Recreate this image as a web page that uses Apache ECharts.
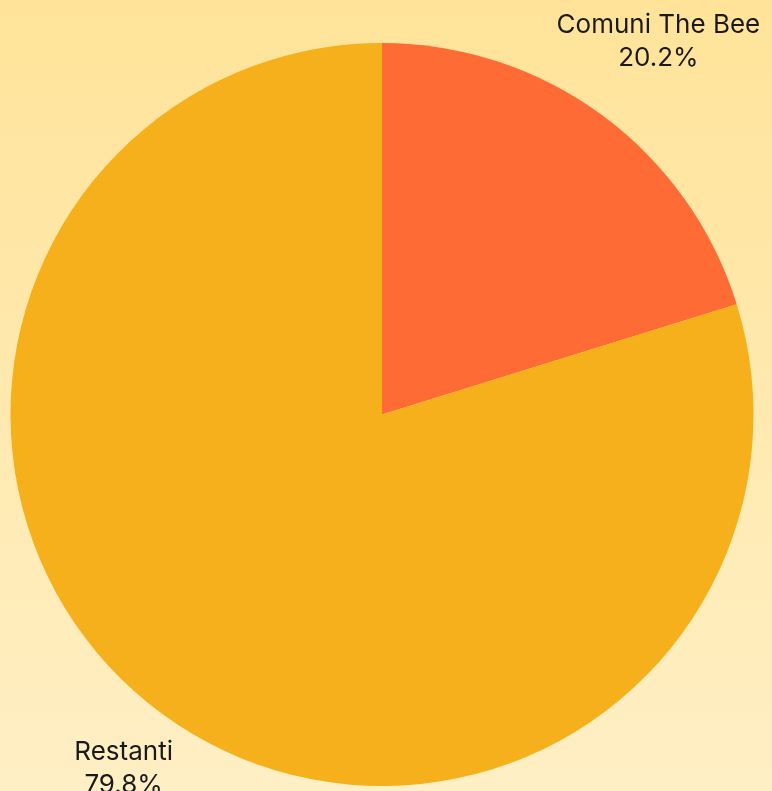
<!DOCTYPE html>
<html>
<head>
<meta charset="utf-8">
<script src="https://cdn.jsdelivr.net/npm/echarts@6/dist/echarts.min.js"></script>
<style>
  html, body { margin: 0; padding: 0; }
  #main { width: 772px; height: 791px; }
</style>
</head>
<body>
<div id="main"></div>
<script>
var categories = ['Comuni The Bee', 'Restanti'];
var values = [20.2, 79.8];
var colors = ['#FF6B35', '#F5B01B'];

var pieData = categories.map(function (name, i) {
  return { name: name, value: values[i], itemStyle: { color: colors[i] } };
});

var myChart = echarts.init(document.getElementById('main'));
myChart.setOption({
  backgroundColor: new echarts.graphic.LinearGradient(0, 0, 0, 1, [
    { offset: 0, color: '#FFE399' },
    { offset: 1, color: '#FFEFC4' }
  ]),
  animation: false,
  series: [{
    // the pie itself
    type: 'pie',
    center: [382, 414.5],
    radius: [0, 371.5],
    startAngle: 90,
    clockwise: true,
    silent: true,
    label: { show: false },
    labelLine: { show: false },
    data: pieData
  }, {
    // invisible ring, only used to place the labels
    type: 'pie',
    center: [391, 405],
    radius: [437, 459],
    startAngle: 90,
    clockwise: true,
    silent: true,
    percentPrecision: 1,
    itemStyle: { color: 'rgba(0,0,0,0)' },
    label: {
      show: true,
      position: 'inside',
      formatter: '{b}\n{d}%',
      color: '#1a1a1a',
      fontFamily: 'Inter',
      fontSize: 26,
      lineHeight: 33,
      align: 'center'
    },
    labelLine: { show: false },
    data: categories.map(function (name, i) {
      return { name: name, value: values[i] };
    })
  }]
});
</script>
</body>
</html>
